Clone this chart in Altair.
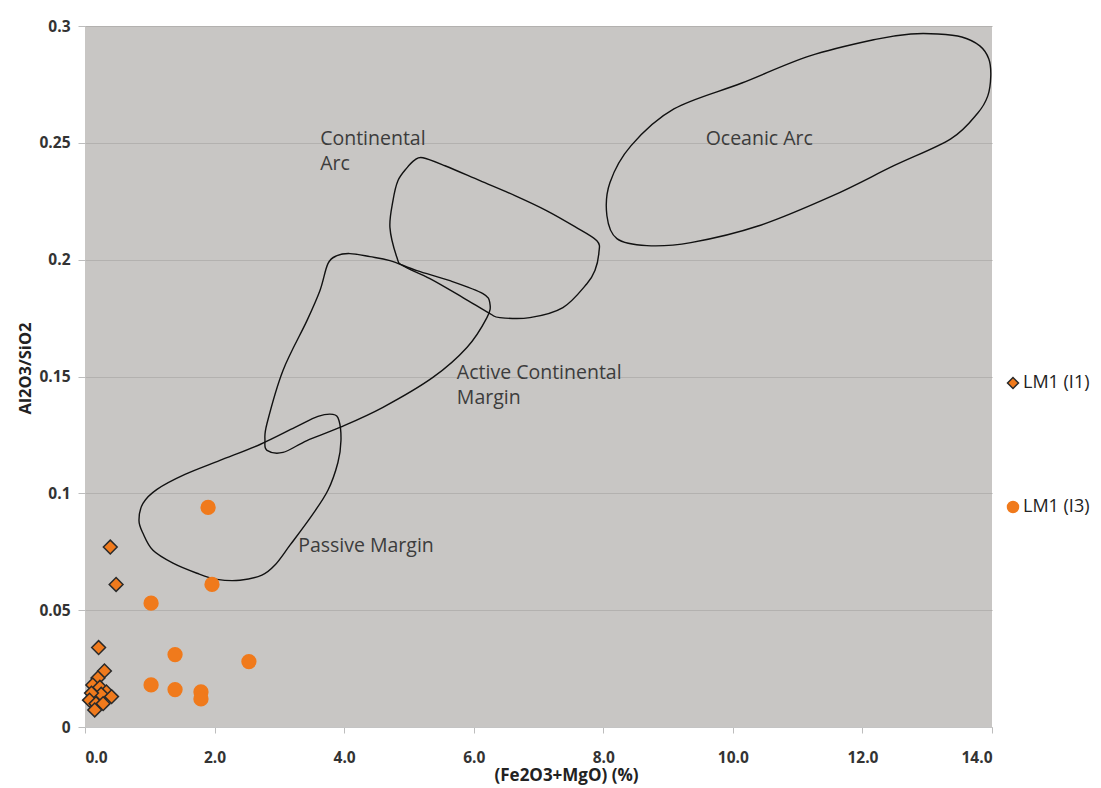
import altair as alt
import pandas as pd

# Samples: (Fe2O3+MgO) % and Al2O3/SiO2
i1_x = [0.39, 0.48, 0.21, 0.30, 0.20, 0.12, 0.23, 0.33, 0.25, 0.41, 0.10, 0.07, 0.17, 0.28, 0.15]
i1_y = [0.077, 0.061, 0.034, 0.024, 0.021, 0.018, 0.017, 0.015, 0.014, 0.013, 0.0145, 0.0115, 0.010, 0.010, 0.0073]

i3_x = [1.90, 1.96, 1.02, 1.39, 2.53, 1.02, 1.39, 1.79, 1.79]
i3_y = [0.094, 0.061, 0.053, 0.031, 0.028, 0.018, 0.016, 0.015, 0.012]

# Tectonic-setting fields (outline vertices, x = Fe2O3+MgO, y = Al2O3/SiO2)
passive_x = [0.833, 0.895, 1.111, 1.543, 2.083, 2.701, 3.241, 3.596, 3.827, 3.920, 3.951, 3.904,
             3.750, 3.503, 3.164, 2.932, 2.731, 2.392, 2.037, 1.728, 1.358, 1.049, 0.895]
passive_y = [0.0885, 0.0957, 0.1017, 0.1081, 0.1141, 0.1209, 0.1282, 0.1329, 0.1338, 0.1312, 0.1226, 0.1132,
             0.1013, 0.0906, 0.0778, 0.0693, 0.0650, 0.0628, 0.0632, 0.0658, 0.0701, 0.0756, 0.0829]

active_x = [3.750, 3.889, 4.090, 4.398, 4.707, 5.123, 5.633, 6.142, 6.250, 6.204, 5.895, 5.370,
            4.599, 3.935, 3.426, 3.056, 2.809, 2.778, 2.809, 3.056, 3.426, 3.627]
active_y = [0.1983, 0.2017, 0.2026, 0.2013, 0.1996, 0.1953, 0.1910, 0.1855, 0.1812, 0.1752, 0.1624, 0.1496,
            0.1368, 0.1282, 0.1226, 0.1175, 0.1184, 0.1226, 0.1299, 0.1526, 0.1739, 0.1868]

cont_x = [5.216, 5.556, 6.096, 6.636, 7.130, 7.562, 7.901, 7.932, 7.870, 7.747, 7.377, 6.867,
          6.404, 6.250, 5.833, 5.324, 4.907, 4.815, 4.707, 4.753, 4.830, 4.969, 5.093]
cont_y = [0.2436, 0.2402, 0.2338, 0.2274, 0.2209, 0.2141, 0.2081, 0.2030, 0.1953, 0.1897, 0.1795, 0.1752,
          0.1752, 0.1769, 0.1838, 0.1919, 0.1974, 0.2009, 0.2137, 0.2252, 0.2338, 0.2393, 0.2427]

ocean_x = [8.056, 8.102, 8.426, 9.090, 10.139, 11.188, 12.222, 12.747, 13.164, 13.534, 13.812, 13.951,
           13.981, 13.935, 13.781, 13.364, 12.485, 11.543, 10.401, 9.352, 8.673, 8.210]
ocean_y = [0.2188, 0.2329, 0.2487, 0.2645, 0.2756, 0.2872, 0.2944, 0.2966, 0.2966, 0.2953, 0.2915, 0.2859,
           0.2786, 0.2701, 0.2628, 0.2517, 0.2402, 0.2274, 0.2145, 0.2073, 0.2060, 0.2090]

label_text = ["Continental", "Arc", "Oceanic Arc", "Active Continental", "Margin", "Passive Margin"]
label_x = [3.63, 3.63, 9.58, 5.74, 5.74, 3.29]
label_y = [0.2517, 0.2410, 0.2517, 0.1517, 0.1410, 0.0774]

series_names = ["LM1 (I1)", "LM1 (I3)"]
orange = "#f07a1c"

points = pd.concat([
    pd.DataFrame({"x": i1_x, "y": i1_y, "series": series_names[0]}),
    pd.DataFrame({"x": i3_x, "y": i3_y, "series": series_names[1]}),
], ignore_index=True)

fields = []
for name, xs, ys in [("Passive Margin", passive_x, passive_y),
                     ("Active Continental Margin", active_x, active_y),
                     ("Continental Arc", cont_x, cont_y),
                     ("Oceanic Arc", ocean_x, ocean_y)]:
    fields.append(pd.DataFrame({"x": xs, "y": ys, "region": name, "idx": range(len(xs))}))
fields = pd.concat(fields, ignore_index=True)

labels = pd.DataFrame({"text": label_text, "x": label_x, "y": label_y})

x_scale = alt.Scale(domain=[0, 14], nice=False)
y_scale = alt.Scale(domain=[0, 0.3], nice=False)

x_axis = alt.Axis(
    title="(Fe2O3+MgO) (%)", values=[0, 2, 4, 6, 8, 10, 12, 14], format=".1f",
    grid=False, domain=True, domainColor="#c4c4c4", ticks=True, tickColor="#bdbdbd", tickSize=6,
    labelFont="Open Sans", labelFontSize=15.5, labelFontWeight="bold", labelColor="#333333",
    labelPadding=17, titleFont="Open Sans", titleFontSize=17, titleFontWeight="bold",
    titleColor="#222222", titleX=481, titleY=40,
)
y_axis = alt.Axis(
    title="Al2O3/SiO2", values=[0, 0.05, 0.1, 0.15, 0.2, 0.25, 0.3], format="~g",
    grid=True, gridColor="#b3b1af", gridWidth=1, domain=False,
    ticks=True, tickColor="#bdbdbd", tickSize=7,
    labelFont="Open Sans", labelFontSize=15.5, labelFontWeight="bold", labelColor="#333333",
    labelPadding=8, titleFont="Open Sans", titleFontSize=16.5, titleFontWeight="bold",
    titleColor="#222222", titleX=-52, titleY=342,
)

outlines = alt.Chart(fields).mark_line(
    interpolate="cardinal-closed", color="#111111", strokeWidth=1.4
).encode(
    x=alt.X("x:Q", scale=x_scale, axis=x_axis),
    y=alt.Y("y:Q", scale=y_scale, axis=y_axis),
    detail="region:N",
    order="idx:Q",
)

texts = alt.Chart(labels).mark_text(
    align="left", baseline="middle", font="Open Sans", fontSize=19.5, color="#3c3c3c"
).encode(
    x=alt.X("x:Q", scale=x_scale),
    y=alt.Y("y:Q", scale=y_scale),
    text="text:N",
)

legend = alt.Legend(
    title=None, orient="none", legendX=919, legendY=348, rowPadding=106, padding=0,
    labelFont="Open Sans", labelFontSize=18, labelColor="#222222", symbolSize=120,
    symbolStrokeWidth=1.5, labelOffset=1,
)

scatter = alt.Chart(points).mark_point(filled=True, opacity=1, strokeWidth=1.5, size=190).encode(
    x=alt.X("x:Q", scale=x_scale),
    y=alt.Y("y:Q", scale=y_scale),
    color=alt.Color("series:N", scale=alt.Scale(domain=series_names, range=[orange, orange]), legend=legend),
    shape=alt.Shape("series:N", scale=alt.Scale(domain=series_names, range=["diamond", "circle"]), legend=legend),
    stroke=alt.Stroke("series:N", scale=alt.Scale(domain=series_names, range=["#2a2a2a", orange]), legend=legend),
)

chart = alt.layer(outlines, texts, scatter).properties(
    width=907, height=701,
    autosize=alt.AutoSizeParams(type="none"),
    padding={"left": 85, "top": 26, "right": 109, "bottom": 61},
    background="white",
).configure_view(fill="#c8c6c4", stroke=None)

chart.save("out.html", embed_options={"renderer": "svg", "actions": False})
